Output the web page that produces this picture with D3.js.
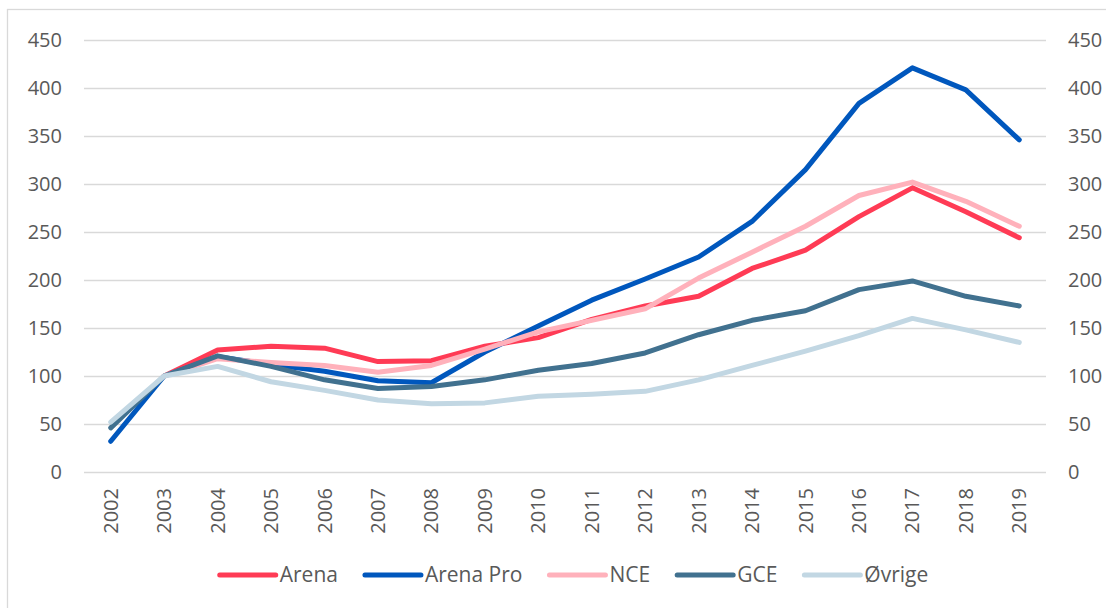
<!DOCTYPE html>
<html>
<head>
<meta charset="utf-8">
<script src="https://cdn.jsdelivr.net/npm/d3@7"></script>
<style>
  html, body { margin: 0; padding: 0; background: #ffffff; }
  svg { display: block; }
  text { font-family: "Open Sans", "Noto Sans", sans-serif; fill: #595959; }
</style>
</head>
<body>
<svg id="chart" width="1106" height="608"></svg>
<script>
const years = ["2002","2003","2004","2005","2006","2007","2008","2009","2010","2011","2012","2013","2014","2015","2016","2017","2018","2019"];
const arena    = [null,100,127,131,129,115,116,131,140,159,173,183,212,231,266,296,271,244];
const arenaPro = [32,100,120,112,105,95,93,125,152,179,201,224,261,315,384,421,398,346];
const nce      = [null,100,118,114,111,104,111,128,146,158,170,202,229,256,288,302,282,256];
const gce      = [46,100,121,110,96,87,89,96,106,113,124,143,158,168,190,199,183,173];
const ovrige   = [52,100,110,94,85,75,71,72,79,81,84,96,111,126,142,160,148,135];
const yTicks   = [0,50,100,150,200,250,300,350,400,450];

const seriesNames  = ["Arena","Arena Pro","NCE","GCE","Øvrige"];
const seriesValues = [arena, arenaPro, nce, gce, ovrige];
const seriesColors = ["#FF3B55","#0057BD","#FFB1BB","#41718F","#C2D7E3"];

const svg = d3.select("#chart");

// outer chart border
svg.append("rect")
  .attr("x", 7.5).attr("y", 9.5)
  .attr("width", 1200).attr("height", 700)
  .attr("fill", "none").attr("stroke", "#d9d9d9").attr("stroke-width", 1.3);

const plot = { left: 84, right: 1046, top: 40, bottom: 472 };

const x = d3.scaleBand().domain(years).range([plot.left, plot.right]).paddingInner(0).paddingOuter(0);
const xc = d => x(d) + x.bandwidth() / 2;
const y = d3.scaleLinear().domain([0, 450]).range([plot.bottom, plot.top]);

// gridlines
svg.append("g")
  .attr("transform", `translate(${plot.left},0)`)
  .call(d3.axisLeft(y).tickValues(yTicks).tickSize(-(plot.right - plot.left)).tickFormat(""))
  .call(g => g.select(".domain").remove())
  .call(g => g.selectAll(".tick line").attr("stroke", "#d9d9d9").attr("stroke-width", 1.3));

// left axis labels
const leftAxis = svg.append("g")
  .attr("transform", `translate(${plot.left - 22},0)`)
  .call(d3.axisLeft(y).tickValues(yTicks).tickSize(0).tickPadding(0));
leftAxis.select(".domain").remove();
leftAxis.selectAll("text")
  .attr("font-size", "20px").attr("fill", "#595959")
  .style("font-family", '"Open Sans", sans-serif');

// right axis labels
const rightAxis = svg.append("g")
  .attr("transform", `translate(${plot.right + 22},0)`)
  .call(d3.axisRight(y).tickValues(yTicks).tickSize(0).tickPadding(0));
rightAxis.select(".domain").remove();
rightAxis.selectAll("text")
  .attr("font-size", "20px").attr("fill", "#595959")
  .style("font-family", '"Open Sans", sans-serif');

// x axis labels (rotated)
const xAxis = svg.append("g")
  .attr("transform", `translate(0,${plot.bottom + 16})`)
  .call(d3.axisBottom(x).tickSize(0).tickPadding(0));
xAxis.select(".domain").remove();
xAxis.selectAll("text")
  .attr("font-size", "20px").attr("fill", "#595959")
  .style("font-family", '"Open Sans", sans-serif')
  .attr("transform", "rotate(-90)")
  .attr("text-anchor", "end")
  .attr("x", 0).attr("y", 0).attr("dy", "0.35em");

// lines
const line = d3.line()
  .defined(d => d.v !== null)
  .x(d => xc(d.year))
  .y(d => y(d.v));

seriesValues.forEach((vals, i) => {
  const data = years.map((yr, j) => ({ year: yr, v: vals[j] }));
  svg.append("path")
    .datum(data)
    .attr("fill", "none")
    .attr("stroke", seriesColors[i])
    .attr("stroke-width", 5)
    .attr("stroke-linejoin", "round")
    .attr("stroke-linecap", "round")
    .attr("d", line);
});

// legend
const legend = svg.append("g");
const lineLen = 56, gap = 4, itemGap = 27, legendY = 575;
const items = seriesNames.map((name, i) => {
  const g = legend.append("g");
  g.append("line")
    .attr("x1", 0).attr("x2", lineLen)
    .attr("y1", 0).attr("y2", 0)
    .attr("stroke", seriesColors[i]).attr("stroke-width", 5)
    .attr("stroke-linecap", "round");
  const t = g.append("text")
    .attr("x", lineLen + gap).attr("y", 0).attr("dy", "0.35em")
    .attr("font-size", "21px")
    .text(name);
  return { g, w: lineLen + gap + t.node().getComputedTextLength() };
});
const total = d3.sum(items, d => d.w) + itemGap * (items.length - 1);
let cx = 574 - total / 2;
items.forEach(it => {
  it.g.attr("transform", `translate(${cx},${legendY})`);
  cx += it.w + itemGap;
});
</script>
</body>
</html>
